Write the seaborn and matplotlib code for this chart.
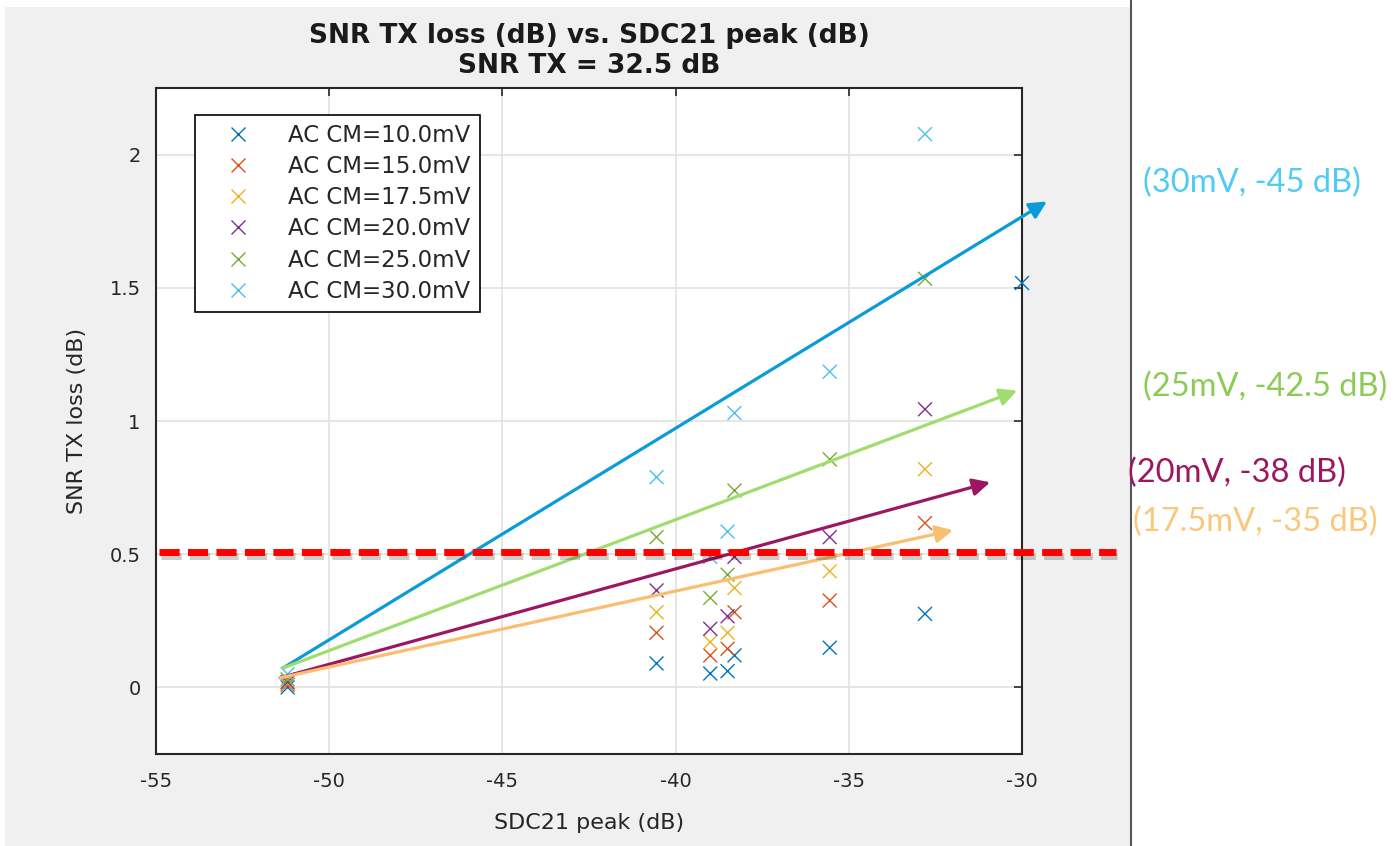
import pandas as pd
import matplotlib.pyplot as plt
import seaborn as sns
import numpy as np
from matplotlib import patheffects
from matplotlib.patches import Rectangle
from matplotlib.lines import Line2D

# =========================
# 1. Data
# =========================
sdc_cols = [-51.2, -40.55, -39.0, -38.5, -38.3, -35.55, -32.8]
sdc_10mv = sdc_cols + [-30.0]

loss_10mv = [0.00, 0.090, 0.052, 0.061, 0.120, 0.149, 0.276, 1.518]
loss_15mv = [0.01, 0.205, 0.120, 0.145, 0.282, 0.326, 0.617]
loss_175mv = [0.015, 0.282, 0.170, 0.205, 0.373, 0.436, 0.819]
loss_20mv = [0.02, 0.364, 0.220, 0.267, 0.490, 0.564, 1.044]
loss_25mv = [0.03, 0.564, 0.336, 0.423, 0.739, 0.856, 1.534]
loss_30mv = [0.05, 0.789, 0.490, 0.585, 1.030, 1.185, 2.077]

series_labels = ["AC CM=10.0mV", "AC CM=15.0mV", "AC CM=17.5mV",
                 "AC CM=20.0mV", "AC CM=25.0mV", "AC CM=30.0mV"]
series_colors = ["#0072BD", "#D95319", "#EDB120", "#7E2F8E", "#77AC30", "#4DBEEE"]

# trend arrows: (start x, start y, end x, end y)
arrow_30 = (-51.33, 0.073, -29.28, 1.824)
arrow_25 = (-51.33, 0.073, -30.14, 1.114)
arrow_20 = (-51.42, 0.036, -30.92, 0.770)
arrow_175 = (-51.42, 0.036, -31.99, 0.590)
arrow_colors = ["#0A9CD8", "#A0DC6E", "#9C1760", "#F9BE70"]

note_texts = ["(30mV, -45 dB)", "(25mV, -42.5 dB)", "(20mV, -38 dB)", "(17.5mV, -35 dB)"]
note_colors = ["#4FCBF5", "#8CCB55", "#9C1760", "#FBC77A"]

threshold = 0.51

rows = []
for lab, xs, ys in zip(series_labels,
                       [sdc_10mv, sdc_cols, sdc_cols, sdc_cols, sdc_cols, sdc_cols],
                       [loss_10mv, loss_15mv, loss_175mv, loss_20mv, loss_25mv, loss_30mv]):
    for x, y in zip(xs, ys):
        rows.append({"SDC21 peak (dB)": x, "SNR TX loss (dB)": y, "series": lab})
df = pd.DataFrame(rows)

# =========================
# 2. Figure
# =========================
sns.set_style("white")
plt.rcParams["font.family"] = ["DejaVu Sans"]
plt.rcParams["axes.unicode_minus"] = False

fig = plt.figure(figsize=(14, 8.46), dpi=100)
fig.patch.set_facecolor("white")
fig.patches.append(Rectangle((5 / 1400, 0), 1126 / 1400, 839 / 846, transform=fig.transFigure,
                             facecolor="#f0f0f0", edgecolor="none", zorder=-10))
fig.lines.append(Line2D([1131 / 1400, 1131 / 1400], [0, 1], transform=fig.transFigure,
                        color="#555555", lw=1.5))

ax = fig.add_axes([156 / 1400, 92 / 846, 866 / 1400, 666 / 846])
ax.set_facecolor("white")

sns.scatterplot(data=df, x="SDC21 peak (dB)", y="SNR TX loss (dB)", hue="series",
                hue_order=series_labels, palette=series_colors, marker="x",
                s=100, linewidth=1.0, ax=ax, zorder=3)
for coll in ax.collections:
    coll.set_clip_on(False)

ax.set_xlim(-55, -30)
ax.set_ylim(-0.25, 2.25)
ax.set_xticks([-55, -50, -45, -40, -35, -30])
ax.set_yticks([0, 0.5, 1, 1.5, 2])
ax.set_yticklabels(["0", "0.5", "1", "1.5", "2"])
ax.grid(True, color="#e2e2e2", lw=1.2)
ax.set_axisbelow(True)
ax.tick_params(direction="in", length=6, width=1.2, top=True, right=True,
               labelsize=14, colors="#262626")
ax.tick_params(axis="x", pad=13)
ax.tick_params(axis="y", pad=11)
for s in ax.spines.values():
    s.set_color("#262626")
    s.set_linewidth(1.5)

ax.set_xlabel("SDC21 peak (dB)", fontsize=16, color="#262626", labelpad=16)
ax.set_ylabel("SNR TX loss (dB)", fontsize=16, color="#262626", labelpad=16)
ax.set_title("SNR TX loss (dB) vs. SDC21 peak (dB)\nSNR TX = 32.5 dB",
             fontsize=19, fontweight="bold", pad=11, linespacing=1.2, color="#1a1a1a")

# legend
handles, labels = ax.get_legend_handles_labels()
leg = ax.legend(handles, labels, loc="upper left", bbox_to_anchor=(0.045, 0.9595),
                borderaxespad=0, fontsize=16.5, frameon=True, fancybox=False,
                edgecolor="black", framealpha=1, handletextpad=0.7, labelspacing=0.36,
                borderpad=0.38, handlelength=3.0, markerscale=1.0)
leg.get_frame().set_linewidth(1.2)

# trend arrows
for (x0, y0, x1, y1), c in zip([arrow_30, arrow_25, arrow_20, arrow_175], arrow_colors):
    ax.annotate("", xy=(x1, y1), xytext=(x0, y0), annotation_clip=False, zorder=4,
                arrowprops=dict(arrowstyle="-|>", color=c, lw=2.3, mutation_scale=26,
                                shrinkA=0, shrinkB=0))

# threshold line
ax.plot([-54.9, -27.3], [threshold, threshold], color="#ff0000", lw=5,
        dashes=(2.9, 1.2), clip_on=False, zorder=5,
        path_effects=[patheffects.SimpleLineShadow(offset=(1, -3), shadow_color="black",
                                                   alpha=0.2),
                      patheffects.Normal()])

# notes on the right
note_pos = [(1143, 183), (1143, 387), (1128, 473), (1133, 522)]
for (px, py), t, c in zip(note_pos, note_texts, note_colors):
    fig.text(px / 1400, 1 - py / 846, t, color=c, fontsize=23.5, va="center", ha="left",
             family=["Lato", "DejaVu Sans"])

fig.savefig("out.png", dpi=100)
